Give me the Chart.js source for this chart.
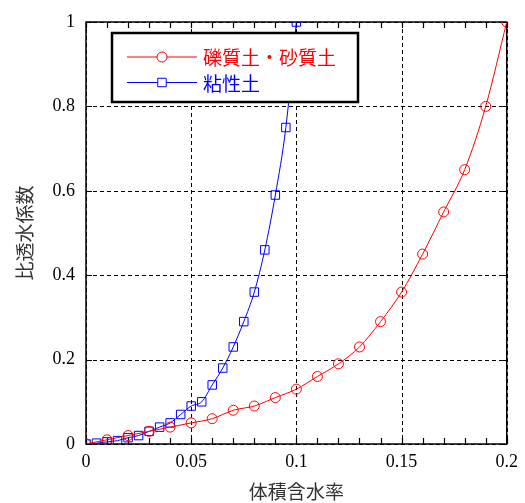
<!DOCTYPE html>
<html>
<head>
<meta charset="utf-8">
<script src="https://cdn.jsdelivr.net/npm/chart.js@4.4.1/dist/chart.umd.min.js"></script>
<style>
  html, body { margin: 0; padding: 0; background: #fff; }
  #wrap { width: 525px; height: 503px; }
</style>
</head>
<body>
<div id="wrap"><canvas id="permChart" width="525" height="503"></canvas></div>
<script>
// volumetric water content (x) and relative permeability (y)
const gravelX = [0, 0.01, 0.02, 0.03, 0.04, 0.05, 0.06, 0.07, 0.08, 0.09, 0.1,
  0.11, 0.12, 0.13, 0.14, 0.15, 0.16, 0.17, 0.18, 0.19, 0.2];
const gravelY = [0, 0.01, 0.02, 0.03, 0.04, 0.05, 0.06, 0.08, 0.09, 0.11, 0.13,
  0.16, 0.19, 0.23, 0.29, 0.36, 0.45, 0.55, 0.65, 0.8, 1.0];
const clayX = [0, 0.005, 0.01, 0.015, 0.02, 0.025, 0.03, 0.035, 0.04, 0.045, 0.05,
  0.055, 0.06, 0.065, 0.07, 0.075, 0.08, 0.085, 0.09, 0.095, 0.1];
const clayY = [0, 0.002, 0.005, 0.008, 0.015, 0.02, 0.03, 0.04, 0.05, 0.07, 0.09,
  0.1, 0.14, 0.18, 0.23, 0.29, 0.36, 0.46, 0.59, 0.75, 1.0];
const seriesNames = ["礫質土・砂質土", "粘性土"];
const xTicks = [0, 0.05, 0.1, 0.15, 0.2];
const xMinorTicks = [0.01, 0.02, 0.03, 0.04, 0.06, 0.07, 0.08, 0.09, 0.11, 0.12,
  0.13, 0.14, 0.16, 0.17, 0.18, 0.19];
const yTicks = [0, 0.2, 0.4, 0.6, 0.8, 1];
const xTitle = "体積含水率";
const yTitle = "比透水係数";

const toPoints = (xs, ys) => xs.map((x, i) => ({ x: x, y: ys[i] }));

// frame, dashed grid and inward ticks
const framePlugin = {
  id: "frame",
  beforeDatasetsDraw(chart) {
    const { ctx, chartArea: a, scales } = chart;
    const xs = scales.x, ys = scales.y;
    ctx.save();
    ctx.strokeStyle = "#000";
    ctx.lineWidth = 1;
    ctx.setLineDash([4, 3]);
    xTicks.forEach(v => {
      const px = Math.round(xs.getPixelForValue(v)) + 0.5;
      ctx.beginPath(); ctx.moveTo(px, a.top); ctx.lineTo(px, a.bottom); ctx.stroke();
    });
    yTicks.forEach(v => {
      const py = Math.round(ys.getPixelForValue(v)) + 0.5;
      ctx.beginPath(); ctx.moveTo(a.left, py); ctx.lineTo(a.right, py); ctx.stroke();
    });
    ctx.setLineDash([]);
    ctx.lineWidth = 1.2;
    xTicks.concat(xMinorTicks).forEach(v => {
      const px = Math.round(xs.getPixelForValue(v)) + 0.5;
      ctx.beginPath();
      ctx.moveTo(px, a.bottom); ctx.lineTo(px, a.bottom - 6);
      ctx.moveTo(px, a.top); ctx.lineTo(px, a.top + 6);
      ctx.stroke();
    });
    yTicks.forEach(v => {
      const py = Math.round(ys.getPixelForValue(v)) + 0.5;
      ctx.beginPath();
      ctx.moveTo(a.left, py); ctx.lineTo(a.left + 6, py);
      ctx.moveTo(a.right, py); ctx.lineTo(a.right - 6, py);
      ctx.stroke();
    });
    ctx.lineWidth = 1.5;
    ctx.strokeRect(a.left, a.top, a.right - a.left, a.bottom - a.top);
    ctx.restore();
  }
};

// boxed legend in the upper left of the plot
const legendPlugin = {
  id: "boxLegend",
  afterDatasetsDraw(chart) {
    const ctx = chart.ctx;
    const bx = 112, by = 33, bw = 246, bh = 69;
    ctx.save();
    ctx.fillStyle = "#fff";
    ctx.fillRect(bx, by, bw, bh);
    ctx.strokeStyle = "#000";
    ctx.lineWidth = 2.5;
    ctx.strokeRect(bx, by, bw, bh);
    chart.data.datasets.forEach((ds, i) => {
      const y = 57 + i * 25.5;
      ctx.strokeStyle = ds.borderColor;
      ctx.lineWidth = 1;
      ctx.beginPath(); ctx.moveTo(127, y); ctx.lineTo(197, y); ctx.stroke();
      ctx.fillStyle = "#fff";
      Chart.helpers.drawPoint(ctx, {
        pointStyle: ds.pointStyle, radius: ds.pointRadius, borderWidth: 1
      }, 162, y);
      ctx.fillStyle = ds.borderColor;
      ctx.font = "19px 'Noto Sans CJK JP'";
      ctx.textBaseline = "middle";
      ctx.fillText(ds.label, 203, y + 1);
    });
    ctx.restore();
  }
};

const chart = new Chart(document.getElementById("permChart").getContext("2d"), {
  type: "line",
  data: {
    datasets: [
      {
        label: seriesNames[0],
        data: toPoints(gravelX, gravelY),
        borderColor: "#f00",
        backgroundColor: "rgba(0,0,0,0)",
        borderWidth: 1,
        pointStyle: "circle",
        pointRadius: 5,
        pointBorderWidth: 1,
        cubicInterpolationMode: "monotone"
      },
      {
        label: seriesNames[1],
        data: toPoints(clayX, clayY),
        borderColor: "#00f",
        backgroundColor: "rgba(0,0,0,0)",
        borderWidth: 1,
        pointStyle: "rect",
        pointRadius: 6,
        pointBorderWidth: 1,
        cubicInterpolationMode: "monotone"
      }
    ]
  },
  options: {
    responsive: false,
    animation: false,
    devicePixelRatio: 1,
    layout: { padding: { top: 22, right: 17, left: 0, bottom: 0 } },
    plugins: { legend: { display: false }, tooltip: { enabled: false } },
    scales: {
      x: {
        type: "linear",
        min: 0,
        max: 0.2,
        afterBuildTicks: s => { s.ticks = xTicks.map(v => ({ value: v })); },
        afterFit: s => { s.height = 59; },
        grid: { display: false, drawTicks: false },
        border: { display: false },
        ticks: {
          padding: 7,
          color: "#000",
          font: { family: "'Liberation Serif'", size: 18 },
          callback: v => String(v)
        },
        title: {
          display: true,
          text: xTitle,
          color: "#333",
          font: { family: "'Noto Sans CJK JP'", size: 19 },
          padding: { top: 0, bottom: 0 }
        }
      },
      y: {
        min: 0,
        max: 1,
        afterBuildTicks: s => { s.ticks = yTicks.map(v => ({ value: v })); },
        afterFit: s => { s.width = 86; },
        grid: { display: false, drawTicks: false },
        border: { display: false },
        ticks: {
          padding: 11,
          color: "#000",
          font: { family: "'Liberation Serif'", size: 18 },
          callback: v => String(v)
        },
        title: {
          display: true,
          text: yTitle,
          color: "#333",
          font: { family: "'Noto Sans CJK JP'", size: 19 },
          padding: { top: 13, bottom: 0 }
        }
      }
    }
  },
  plugins: [framePlugin, legendPlugin]
});
</script>
</body>
</html>
